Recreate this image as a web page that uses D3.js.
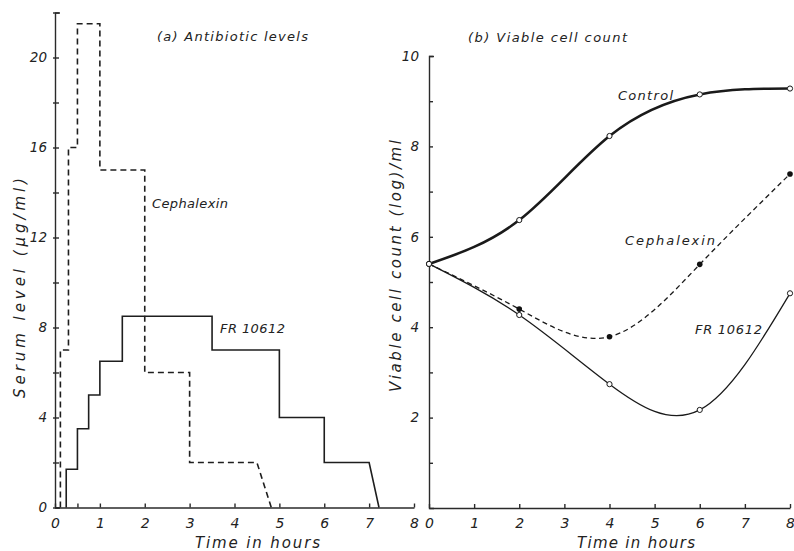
<!DOCTYPE html>
<html>
<head>
<meta charset="utf-8">
<script src="https://cdn.jsdelivr.net/npm/d3@7"></script>
<style>
  html, body { margin: 0; padding: 0; background: #fff; }
  svg { display: block; }
  text { font-family: "DejaVu Sans", sans-serif; font-style: italic; fill: #222; }
  .axis path, .axis line { stroke: #2a2a2a; stroke-width: 1.4; fill: none; }
</style>
</head>
<body>
<svg id="chart" width="794" height="551"></svg>
<script>
// ---- Panel (a): serum antibiotic levels (step profiles) ----
const hourTicks = [0, 1, 2, 3, 4, 5, 6, 7, 8];
const serumTicks = [0, 4, 8, 12, 16, 20];
const cephStepHours = [0.12, 0.3, 0.5, 1, 2, 3];       // hour at which the level changes
const cephStepLevels = [7, 16, 21.5, 15, 6, 2];        // level after the change (µg/ml)
const cephFall = [4.5, 4.82];                          // final decline to zero
const frStepHours = [0.25, 0.5, 0.75, 1, 1.5, 3.5, 5, 6];
const frStepLevels = [1.7, 3.5, 5, 6.5, 8.5, 7, 4, 2];
const frFall = [7, 7.22];

// ---- Panel (b): viable cell count (log/ml) ----
const sampleHours = [0, 2, 4, 6, 8];
const controlCount = [5.4, 6.37, 8.23, 9.15, 9.28];
const cephCount = [5.4, 4.40, 3.79, 5.39, 7.39];
const frCount = [5.4, 4.27, 2.74, 2.17, 4.75];
const countTicks = [2, 4, 6, 8, 10];

const svg = d3.select("#chart");

// scales
const xA = d3.scaleLinear().domain([0, 8]).range([55, 414]);
const yA = d3.scaleLinear().domain([0, 22]).range([507.5, 12.5]);
const xB = d3.scaleLinear().domain([0, 8]).range([429, 790]);
const yB = d3.scaleLinear().domain([0, 10]).range([508, 56]);

// helper: turn step changes into polyline vertices
function stepVertices(hours, levels, fall) {
  const pts = [[hours[0], 0]];
  hours.forEach((h, i) => {
    if (i > 0) pts.push([h, levels[i - 1]]);
    pts.push([h, levels[i]]);
  });
  pts.push([fall[0], levels[levels.length - 1]]);
  pts.push([fall[1], 0]);
  return pts;
}

// ---------- axes, panel (a) ----------
const axAy = svg.append("g").attr("class", "axis")
  .attr("transform", `translate(${xA(0)},0)`)
  .call(d3.axisLeft(yA)
    .tickValues(d3.range(0, 23, 2))
    .tickSizeInner(-4).tickSizeOuter(-5).tickPadding(8)
    .tickFormat(d => serumTicks.includes(d) ? d : ""));
axAy.selectAll(".tick line").attr("x1", 4).attr("x2", -2);

const axAx = svg.append("g").attr("class", "axis")
  .attr("transform", `translate(0,${yA(0)})`)
  .call(d3.axisBottom(xA)
    .tickValues([0, 0.5, ...hourTicks.slice(1)])
    .tickSizeInner(-4).tickSizeOuter(0).tickPadding(10.5)
    .tickFormat(d => Number.isInteger(d) ? d : ""));

// ---------- axes, panel (b) ----------
const axBy = svg.append("g").attr("class", "axis")
  .attr("transform", `translate(${xB(0)},0)`)
  .call(d3.axisLeft(yB)
    .tickValues(d3.range(1, 11, 1))
    .tickSizeInner(-4).tickSizeOuter(-5).tickPadding(10)
    .tickFormat(d => countTicks.includes(d) ? d : ""));

const axBx = svg.append("g").attr("class", "axis")
  .attr("transform", `translate(0,${yB(0)})`)
  .call(d3.axisBottom(xB)
    .tickValues(hourTicks)
    .tickSizeInner(-4).tickSizeOuter(0).tickPadding(10.5)
    .tickFormat(d => d));

svg.selectAll(".axis .tick text")
  .attr("font-size", 14)
  .style("font-family", "\"DejaVu Sans\", sans-serif")
  .style("font-style", "italic")
  .attr("fill", "#222");
axAy.selectAll(".tick text").attr("font-size", 13.5);
axBy.selectAll(".tick text").attr("font-size", 13.5);

// ---------- marks, panel (a) ----------
const lineA = d3.line().x(d => xA(d[0])).y(d => yA(d[1]));
svg.append("path")
  .attr("d", lineA(stepVertices(cephStepHours, cephStepLevels, cephFall)))
  .attr("fill", "none").attr("stroke", "#1e1e1e").attr("stroke-width", 1.6)
  .attr("stroke-dasharray", "6,4");
svg.append("path")
  .attr("d", lineA(stepVertices(frStepHours, frStepLevels, frFall)))
  .attr("fill", "none").attr("stroke", "#1e1e1e").attr("stroke-width", 1.6);

// ---------- marks, panel (b) ----------
const curveB = d3.line()
  .x((d, i) => xB(sampleHours[i]))
  .y(d => yB(d))
  .curve(d3.curveNatural);

svg.append("path").attr("d", curveB(controlCount))
  .attr("fill", "none").attr("stroke", "#1a1a1a").attr("stroke-width", 2.6);
svg.append("path").attr("d", curveB(frCount))
  .attr("fill", "none").attr("stroke", "#1a1a1a").attr("stroke-width", 1.3);
svg.append("path").attr("d", curveB(cephCount))
  .attr("fill", "none").attr("stroke", "#1a1a1a").attr("stroke-width", 1.3)
  .attr("stroke-dasharray", "5,3.5");

svg.append("g").selectAll("circle").data(cephCount).join("circle")
  .attr("cx", (d, i) => xB(sampleHours[i])).attr("cy", d => yB(d))
  .attr("r", 2.8).attr("fill", "#111");
[controlCount, frCount].forEach(series => {
  svg.append("g").selectAll("circle").data(series).join("circle")
    .attr("cx", (d, i) => xB(sampleHours[i])).attr("cy", d => yB(d))
    .attr("r", 2.6).attr("fill", "#fff").attr("stroke", "#1a1a1a").attr("stroke-width", 1);
});

// ---------- text ----------
function label(x, y, str, size, len, rotate) {
  const t = svg.append("text").text(str)
    .attr("font-size", size)
    .attr("textLength", len).attr("lengthAdjust", "spacing");
  if (rotate) {
    t.attr("text-anchor", "middle").attr("transform", `translate(${x},${y}) rotate(-90)`);
  } else {
    t.attr("x", x).attr("y", y);
  }
  return t;
}

label(157, 41, "(a) Antibiotic levels", 13, 151);
label(468, 42, "(b) Viable cell count", 13, 159);
label(195, 548, "Time in hours", 15, 125);
label(577, 548, "Time in hours", 15, 118);
label(25, 288, "Serum level (\u00b5g/ml)", 15, 220, true);
label(401, 266, "Viable cell count (log)/ml", 15, 252, true);

label(152, 208, "Cephalexin", 13, 76);
label(220, 333, "FR 10612", 13, 65);
label(618, 100, "Control", 13, 55);
label(625, 245, "Cephalexin", 13, 90);
label(695, 334, "FR 10612", 13, 67);
</script>
</body>
</html>
